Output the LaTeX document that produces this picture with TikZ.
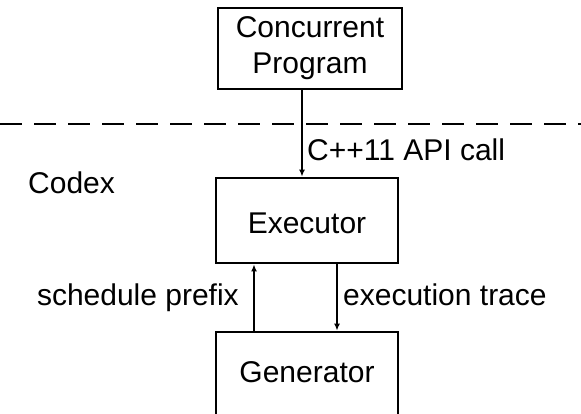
\documentclass[tikz,border=0pt]{standalone}
\usepackage{fontspec}
\setmainfont{Liberation Sans}
\usetikzlibrary{arrows.meta}
\begin{document}
\begin{tikzpicture}[x=1pt,y=-1pt,
  box/.style={draw,line width=2.8pt,minimum width=182pt,inner sep=0pt,align=center,font=\fontsize{30}{36}\selectfont},
  lbl/.style={inner sep=0pt,font=\fontsize{30}{36}\selectfont},
  conn/.style={line width=1.8pt,-{Latex[length=7pt,width=6pt]}}]
\useasboundingbox (0,0) rectangle (581,413);
\clip (0,0) rectangle (581,413);
\node[box,minimum width=184pt,minimum height=81pt] (conc) at (310,48.5) {Concurrent\\Program};
\node[box,anchor=base,text height=55pt,text depth=30pt] (exec) at (307,233) {Executor};
\node[box,anchor=base,text height=50pt,text depth=40pt] (gen) at (307,382) {Generator};
\coordinate (api) at (302,0);
\coordinate (sp) at (254,0);
\coordinate (et) at (337,0);
\coordinate (dl) at (0,124);
\coordinate (dr) at (581,124);
\draw[line width=2.8pt,dash pattern=on 22pt off 12pt] (dl) -- (dr);
\draw[conn] (conc.south -| api) -- (exec.north -| api);
\draw[conn] (gen.north -| sp) -- (exec.south -| sp);
\draw[conn] (exec.south -| et) -- (gen.north -| et);
\node[lbl,anchor=base west] (apil) at (307,160) {C++11 API call};
\node[lbl,anchor=base west] (codex) at (28,193) {Codex};
\node[lbl,anchor=base east] (spl) at (239,305.5) {schedule prefix};
\node[lbl,anchor=base west] (etl) at (343,305.5) {execution trace};
\end{tikzpicture}
\end{document}
